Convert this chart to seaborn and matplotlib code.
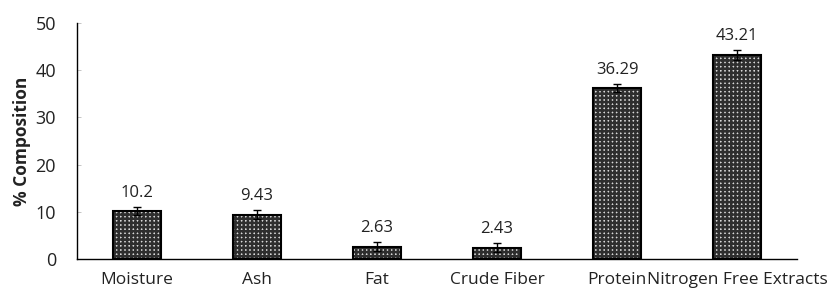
import numpy as np
import pandas as pd
import matplotlib
matplotlib.use('Agg')
import matplotlib.pyplot as plt
import seaborn as sns
from matplotlib.patches import Rectangle

categories = ['Moisture', 'Ash', 'Fat', 'Crude Fiber', 'Protein', 'Nitrogen Free Extracts']
values = [10.2, 9.43, 2.63, 2.43, 36.29, 43.21]
errors = [0.9, 1.0, 1.0, 1.0, 0.9, 1.1]
value_labels = ['10.2', '9.43', '2.63', '2.43', '36.29', '43.21']

sns.set_style('white')
plt.rcParams['font.family'] = ['Open Sans', 'DejaVu Sans']
plt.rcParams['hatch.linewidth'] = 1.8

df = pd.DataFrame({'component': categories, 'value': values})

fig = plt.figure(figsize=(8.34, 2.96), dpi=100)
ax = fig.add_axes([0.092, 0.125, 0.864, 0.797])

# hatch colour follows edgecolor, so the dark grid goes through edgecolor
sns.barplot(data=df, x='component', y='value', order=categories,
            color='#d8d8d8', width=0.4, edgecolor='#2e2e2e',
            hatch='++++', linewidth=0, errorbar=None, ax=ax)

# black outline on top of hatched bars
for p in list(ax.patches):
    ax.add_patch(Rectangle(p.get_xy(), p.get_width(), p.get_height(),
                           fill=False, edgecolor='black', linewidth=1.5))

x = np.arange(len(categories))
ax.errorbar(x, values, yerr=errors, fmt='none', ecolor='black',
            elinewidth=1, capsize=3, capthick=1)

for xi, v, e, lab in zip(x, values, errors, value_labels):
    ax.annotate(lab, (xi, v + e), xytext=(0, 4), textcoords='offset points',
                ha='center', va='bottom', fontsize=12, color='#222222')

ax.set_xlim(-0.5, len(categories) - 0.5)
ax.set_ylim(0, 50)
ax.set_yticks([0, 10, 20, 30, 40, 50])
ax.set_xticks(np.arange(-0.5, len(categories), 1), minor=True)
ax.tick_params(axis='x', which='major', length=0, pad=9, labelsize=12.5, colors='#222222')
ax.tick_params(axis='x', which='minor', direction='in', length=4, width=1, color='black')
ax.tick_params(axis='y', direction='in', length=3, width=0.6, labelsize=13,
               left=True, colors='#bbbbbb', labelcolor='#222222', pad=15)
ax.set_xlabel('')
ax.set_ylabel('% Composition', fontsize=12.5, fontweight='bold', color='#222222', labelpad=3)

sns.despine(ax=ax)
for s in ['left', 'bottom']:
    ax.spines[s].set_color('black')
    ax.spines[s].set_linewidth(1)

fig.savefig('out.png', dpi=100)
